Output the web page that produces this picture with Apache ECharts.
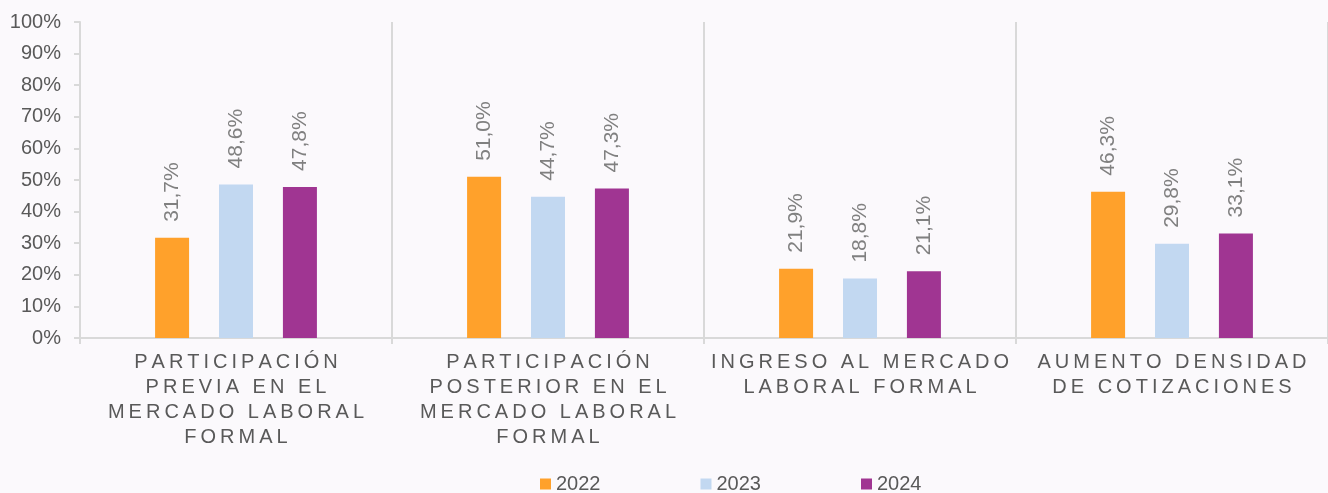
<!DOCTYPE html>
<html>
<head>
<meta charset="utf-8">
<script src="https://cdn.jsdelivr.net/npm/echarts@6/dist/echarts.min.js"></script>
<style>
  html, body { margin: 0; padding: 0; background: #fbf9fc; }
  #chart { width: 1328px; height: 493px; }
</style>
</head>
<body>
<div id="chart"></div>
<script>
// datos
const categories = [
  'PARTICIPACIÓN\nPREVIA EN EL\nMERCADO LABORAL\nFORMAL',
  'PARTICIPACIÓN\nPOSTERIOR EN EL\nMERCADO LABORAL\nFORMAL',
  'INGRESO AL MERCADO\nLABORAL FORMAL',
  'AUMENTO DENSIDAD\nDE COTIZACIONES'
];
const years = ['2022', '2023', '2024'];
const values2022 = [31.7, 51.0, 21.9, 46.3];
const values2023 = [48.6, 44.7, 18.8, 29.8];
const values2024 = [47.8, 47.3, 21.1, 33.1];
const colors = ['#ffa12b', '#c2d8f1', '#a03592'];

// espaciado entre letras (la librería no tiene letterSpacing)
function spaced(s) {
  return s.split('\n').map(function (line) {
    return line.split('').join('\u2009');
  }).join('\n');
}

let chart = echarts.init(document.getElementById('chart'), null, { renderer: 'canvas' });

const labelOpt = {
  show: true,
  position: 'top',
  rotate: 90,
  align: 'left',
  verticalAlign: 'middle',
  distance: 16,
  color: '#808080',
  fontSize: 21,
  fontFamily: 'Liberation Sans',
  formatter: function (p) {
    return p.value.toFixed(1).replace('.', ',') + '%';
  },
};

function makeSeries(name, data, color) {
  return {
    name: name,
    type: 'bar',
    data: data,
    barWidth: 34,
    barGap: '88%',
    itemStyle: { color: color },
    label: labelOpt,
  };
}

let option = {
  backgroundColor: '#fbf9fc',
  animation: false,
  textStyle: { fontFamily: 'Liberation Sans' },
  grid: { left: 80, right: 0, top: 22, bottom: 155, containLabel: false },
  legend: {
    data: years,
    left: 535,
    top: 469,
    itemWidth: 11,
    itemHeight: 11,
    itemGap: 100,
    icon: 'rect',
    textStyle: { color: '#595959', fontSize: 20, fontFamily: 'Liberation Sans' },
  },
  xAxis: {
    type: 'category',
    data: categories.map(spaced),
    axisLine: { show: true, lineStyle: { color: '#d9d9d9', width: 2 } },
    axisTick: { show: true, length: 6, lineStyle: { color: '#d9d9d9', width: 2 } },
    splitLine: { show: true, lineStyle: { color: '#d9d9d9', width: 2 } },
    axisLabel: {
      color: '#595959',
      fontSize: 20,
      lineHeight: 25,
      margin: 12,
      interval: 0,
      fontFamily: 'Liberation Sans',
    },
  },
  yAxis: {
    type: 'value',
    min: 0,
    max: 100,
    interval: 10,
    axisLine: { show: true, lineStyle: { color: '#d9d9d9', width: 2 } },
    axisTick: { show: true, length: 6, lineStyle: { color: '#d9d9d9', width: 2 } },
    splitLine: { show: false },
    axisLabel: {
      color: '#595959',
      fontSize: 20,
      margin: 19,
      fontFamily: 'Liberation Sans',
      formatter: '{value}%',
    },
  },
  series: [
    makeSeries(years[0], values2022, colors[0]),
    makeSeries(years[1], values2023, colors[1]),
    makeSeries(years[2], values2024, colors[2]),
  ],
};

chart.setOption(option);
window.addEventListener('resize', chart.resize);
</script>
</body>
</html>
